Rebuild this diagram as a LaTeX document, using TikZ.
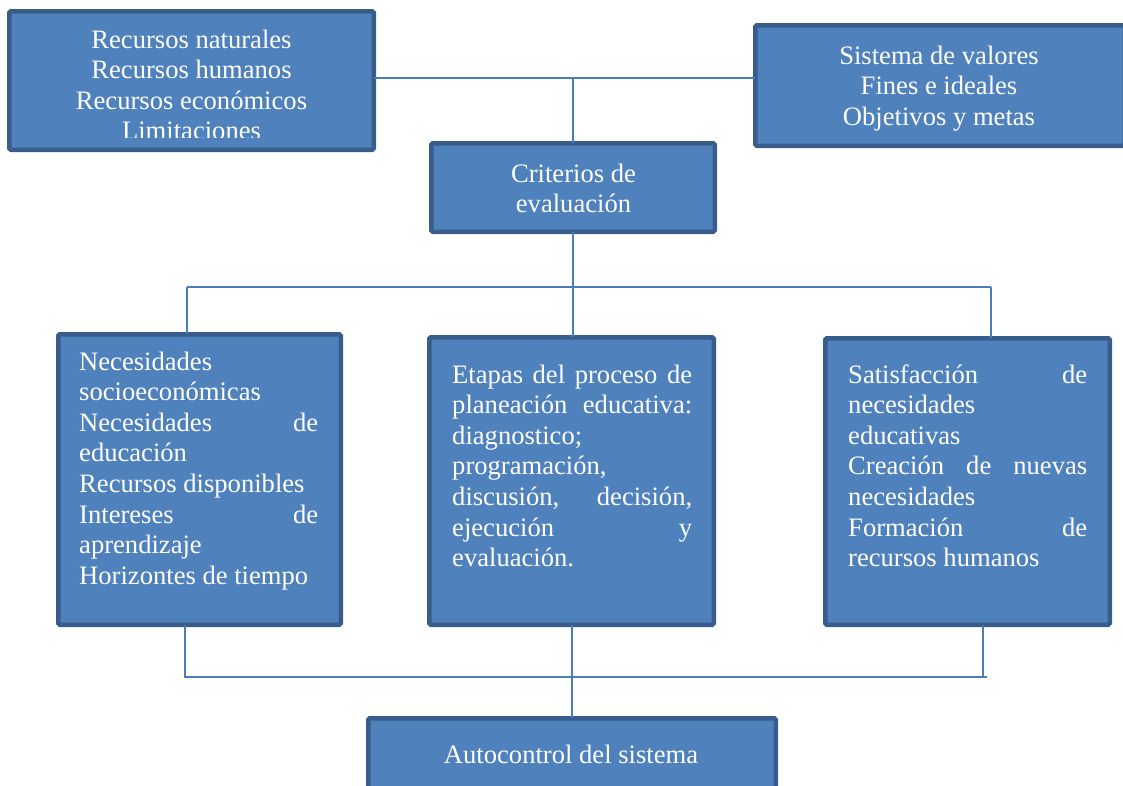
\documentclass[tikz,border=0pt]{standalone}
\usepackage{fontspec}
\setmainfont{Liberation Serif}
\definecolor{boxfill}{HTML}{4F81BD}
\definecolor{boxline}{HTML}{385D8A}
\definecolor{connc}{HTML}{4A7EBB}
\tikzset{
  box/.style={draw=boxline, fill=boxfill, line width=4.5pt, rounded corners=1.5pt, inner sep=0pt, outer sep=0pt},
  connl/.style={draw=connc, line width=1.8pt},
  txt/.style={text=white, inner sep=0pt, font=\fontsize{26.6}{30.6}\selectfont},
}
\newcommand{\jline}[1]{\makebox[\linewidth][s]{#1}}
\begin{document}
\begin{tikzpicture}[x=1pt,y=-1pt]
\useasboundingbox (0,0) rectangle (1123,785);
% boxes
\node[box, minimum width=364.5pt, minimum height=138.5pt] (rec) at (191.5,80.5) {};
\node[box, minimum width=369.5pt, minimum height=120.5pt] (sv) at (940,85.5) {};
\node[box, minimum width=283.5pt, minimum height=88.5pt] (crit) at (573,187.5) {};
\node[box, minimum width=282.5pt, minimum height=290.5pt] (nec) at (199.5,479.5) {};
\node[box, minimum width=284.5pt, minimum height=287.5pt] (eta) at (571.5,481) {};
\node[box, minimum width=284.5pt, minimum height=286.5pt] (sat) at (967.5,481.5) {};
\node[box, minimum width=407.5pt, minimum height=79.5pt] (auto) at (572,758) {};
% texts
\begin{scope}
\clip (9,10) rectangle (374,137);
\node[txt, anchor=base] (rect) at (191.5,48) {\parbox[t]{360pt}{\centering Recursos naturales\\Recursos humanos\\Recursos económicos\\Limitaciones}};
\end{scope}
\node[txt, anchor=base] (svt) at (939,64) {\parbox[t]{360pt}{\centering Sistema de valores\\Fines e ideales\\Objetivos y metas}};
\node[txt, anchor=base] (critt) at (573.5,182) {\parbox[t]{270pt}{\centering Criterios de\\evaluación}};
\node[txt, anchor=base west] (nect) at (79,370) {\parbox[t]{239pt}{Necesidades\\socioeconómicas\\\jline{Necesidades de}\\educación\\Recursos disponibles\\\jline{Intereses de}\\aprendizaje\\Horizontes de tiempo}};
\node[txt, anchor=base west] (etat) at (452,383) {\parbox[t]{240pt}{\jline{Etapas del proceso de}\\\jline{planeación educativa:}\\diagnostico;\\programación,\\\jline{discusión, decisión,}\\\jline{ejecución y}\\evaluación.}};
\node[txt, anchor=base west] (satt) at (848,383) {\parbox[t]{239pt}{\jline{Satisfacción de}\\necesidades\\educativas\\\jline{Creación de nuevas}\\necesidades\\\jline{Formación de}\\recursos humanos}};
\node[txt, anchor=base] (autot) at (571,763) {Autocontrol del sistema};
% connectors
\coordinate (tj) at (573,78);
\draw[connl] (rec.east |- tj) -- (sv.west |- tj);
\draw[connl] (tj) -- (crit.north);
\coordinate (busL) at (187,287);
\coordinate (busM) at (573,287);
\coordinate (busR) at (991,287);
\draw[connl] (crit.south) -- (busM);
\draw[connl] (busL) -- (busR);
\draw[connl] (busL) -- (busL |- nec.north);
\draw[connl] (busM) -- (busM |- eta.north);
\draw[connl] (busR) -- (busR |- sat.north);
\coordinate (jL) at (185,677);
\coordinate (jR) at (983,677);
\coordinate (jE) at (987,677);
\draw[connl] (jL |- nec.south) -- (jL) -- (jE);
\draw[connl] (jR |- sat.south) -- (jR);
\draw[connl] (auto.north |- eta.south) -- (auto.north);
\end{tikzpicture}
\end{document}
